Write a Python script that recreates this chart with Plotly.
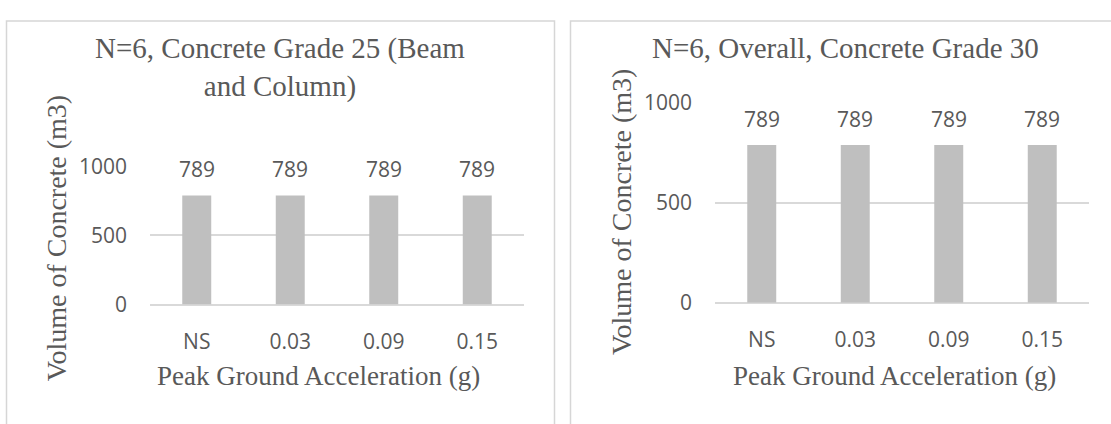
import plotly.graph_objects as go

# Data
categories = ["NS", "0.03", "0.09", "0.15"]
grade25_beam_column = [789, 789, 789, 789]
grade30_overall = [789, 789, 789, 789]
y_ticks = [0, 500, 1000]

left_title = "N=6, Concrete Grade 25 (Beam<br>and Column)"
right_title = "N=6, Overall, Concrete Grade 30"
x_title = "Peak Ground Acceleration (g)"
y_title = "Volume of Concrete (m3)"

W, H = 1111, 424
BAR = "#bfbfbf"
GRID = "#d9d9d9"
TXT = "#595959"
SERIF = "Liberation Serif, Times New Roman, serif"
SANS = "Open Sans, Calibri, sans-serif"


def px_x(v):
    return v / W


def px_y(v):
    return 1 - v / H


fig = go.Figure()

panels = [
    dict(vals=grade25_beam_column, xa="x", ya="y",
         xdom=[px_x(150), px_x(524)], ydom=[px_y(310), px_y(162)]),
    dict(vals=grade30_overall, xa="x2", ya="y2",
         xdom=[px_x(715), px_x(1089)], ydom=[px_y(308), px_y(94)]),
]

for p in panels:
    fig.add_trace(go.Bar(
        x=categories, y=p["vals"], xaxis=p["xa"], yaxis=p["ya"],
        marker=dict(color=BAR, line=dict(width=0)),
        showlegend=False, hoverinfo="skip",
    ))

axis_common_x = dict(
    type="category", showgrid=False, zeroline=False, showline=False,
    ticks="", tickfont=dict(family=SANS, size=21, color=TXT),
    ticklabelstandoff=22,
)
axis_common_y = dict(
    range=[0, 1000], tickvals=y_ticks, showgrid=True, gridcolor=GRID,
    gridwidth=1.5, zeroline=True, zerolinecolor=GRID, zerolinewidth=1.5,
    showline=False, ticks="", tickfont=dict(family=SANS, size=21, color=TXT),
    ticklabelstandoff=22,
)

fig.update_layout(
    width=W, height=H,
    margin=dict(l=0, r=0, t=0, b=0),
    paper_bgcolor="white", plot_bgcolor="white",
    bargap=0.69,
    xaxis=dict(domain=panels[0]["xdom"], anchor="y", **axis_common_x),
    yaxis=dict(domain=panels[0]["ydom"], anchor="x", **axis_common_y),
    xaxis2=dict(domain=panels[1]["xdom"], anchor="y2", **axis_common_x),
    yaxis2=dict(domain=panels[1]["ydom"], anchor="x2", **axis_common_y),
)

annotations = []

# value labels above each bar (category axes are addressed by index)
for p in panels:
    for i, v in enumerate(p["vals"]):
        annotations.append(dict(
            x=i, y=v, xref=p["xa"], yref=p["ya"], text=str(v),
            showarrow=False, yanchor="middle", yshift=26,
            font=dict(family=SANS, size=21, color=TXT),
        ))

# chart titles
annotations.append(dict(
    x=px_x(280), y=px_y(56), xref="paper", yref="paper", text=left_title,
    showarrow=False, xanchor="center", yanchor="middle",
    font=dict(family=SERIF, size=29, color=TXT),
))
annotations.append(dict(
    x=px_x(845), y=px_y(35), xref="paper", yref="paper", text=right_title,
    showarrow=False, xanchor="center", yanchor="middle",
    font=dict(family=SERIF, size=29, color=TXT),
))

# axis titles
for cx, cy_x, cy_y, cx_y in [(318, 386, 239, 56), (894, 386, 211, 621)]:
    annotations.append(dict(
        x=px_x(cx), y=px_y(cy_x), xref="paper", yref="paper", text=x_title,
        showarrow=False, xanchor="center", yanchor="middle",
        font=dict(family=SERIF, size=27, color=TXT),
    ))
    annotations.append(dict(
        x=px_x(cx_y), y=px_y(cy_y), xref="paper", yref="paper", text=y_title,
        showarrow=False, xanchor="center", yanchor="middle", textangle=-90,
        font=dict(family=SERIF, size=28, color=TXT),
    ))

fig.update_layout(annotations=annotations)

# panel frames
fig.add_shape(type="rect", xref="paper", yref="paper",
              x0=px_x(6.5), x1=px_x(554.5), y0=px_y(440), y1=px_y(6.5),
              line=dict(color="#d6d6d6", width=1.5), fillcolor="rgba(0,0,0,0)")
fig.add_shape(type="rect", xref="paper", yref="paper",
              x0=px_x(570.5), x1=px_x(1130), y0=px_y(440), y1=px_y(6.5),
              line=dict(color="#d6d6d6", width=1.5), fillcolor="rgba(0,0,0,0)")

fig.write_html("out.html")
